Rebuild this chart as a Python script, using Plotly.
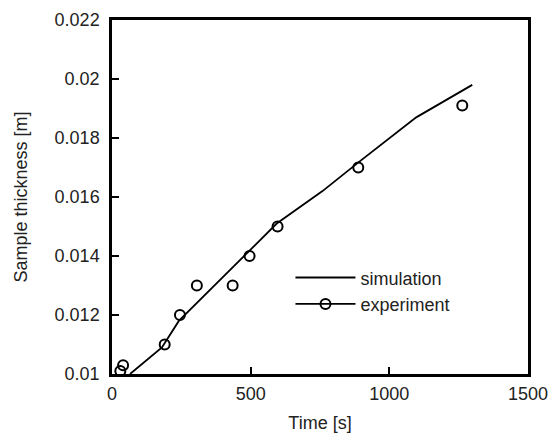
import plotly.graph_objects as go

# Simulation curve
sim_time = [65, 180, 241, 313, 385, 424, 496, 594, 759, 892, 1097, 1299]
sim_thickness = [0.0100, 0.0109, 0.0118, 0.01247, 0.01315, 0.01351, 0.01418, 0.0151, 0.0162, 0.0172, 0.0187, 0.0198]

# Experimental points
exp_time = [30, 40, 190, 245, 306, 435, 496, 597, 888, 1263]
exp_thickness = [0.0101, 0.0103, 0.0110, 0.0120, 0.0130, 0.0130, 0.0140, 0.0150, 0.0170, 0.0191]

x_ticks = [0, 500, 1000, 1500]
y_ticks = [0.01, 0.012, 0.014, 0.016, 0.018, 0.02, 0.022]

FONT = "Liberation Sans, Arial, sans-serif"
INK = "#222222"

fig = go.Figure()
fig.add_trace(go.Scatter(
    x=sim_time, y=sim_thickness, mode="lines", name="simulation",
    line=dict(color="black", width=1.8),
))
fig.add_trace(go.Scatter(
    x=exp_time, y=exp_thickness, mode="markers", name="experiment",
    marker=dict(symbol="circle-open", size=10, color="black", line=dict(width=2)),
    showlegend=False,
))
# legend entry for experiment (line + marker symbol, as in the reference)
fig.add_trace(go.Scatter(
    x=[None], y=[None], mode="lines+markers", name="experiment",
    line=dict(color="black", width=1.8),
    marker=dict(symbol="circle-open", size=10, color="black", line=dict(width=2)),
))

axis_common = dict(
    showline=True, linecolor="black", linewidth=2.5, mirror=True,
    ticks="inside", ticklen=7, tickwidth=2, tickcolor="black",
    showgrid=False, zeroline=False, automargin=False,
    ticklabeloverflow="allow",
    tickfont=dict(family=FONT, size=18, color=INK),
)

fig.update_layout(
    width=548, height=433,
    margin=dict(l=112, r=20, t=20, b=59),
    paper_bgcolor="white", plot_bgcolor="white",
    font=dict(family=FONT, size=18, color=INK),
    xaxis=dict(range=[0, 1500], tickvals=x_ticks, ticklabelstandoff=2,
               title=dict(text="Time [s]", font=dict(size=18, color=INK), standoff=16),
               **axis_common),
    yaxis=dict(range=[0.01, 0.022], tickvals=y_ticks, ticklabelstandoff=6,
               title=dict(text="Sample thickness [m]", font=dict(size=18, color=INK), standoff=23),
               **axis_common),
    legend=dict(x=0.429, y=0.324, xanchor="left", yanchor="top",
                bgcolor="rgba(0,0,0,0)", borderwidth=0, itemwidth=60,
                font=dict(family=FONT, size=18, color=INK),
                tracegroupgap=0),
    showlegend=True,
)

fig.write_html("out.html")
